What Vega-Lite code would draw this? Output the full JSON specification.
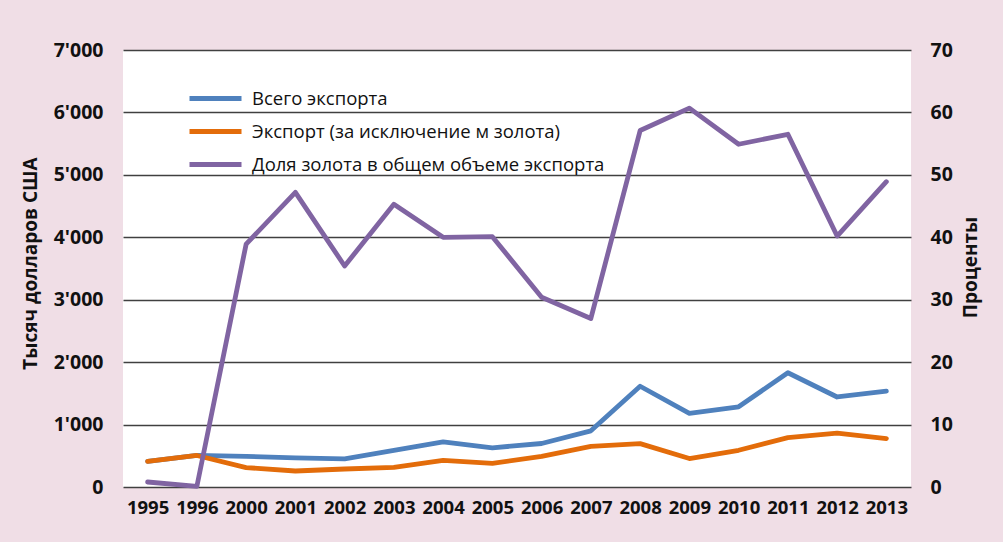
{
  "$schema": "https://vega.github.io/schema/vega-lite/v6.json",
  "width": 788,
  "height": 437,
  "autosize": {"type": "none"},
  "padding": {"left": 123, "top": 50, "right": 92, "bottom": 55},
  "background": "#F0DEE6",
  "config": {
    "view": {"fill": "white", "stroke": null},
    "font": "Open Sans"
  },
  "data": {
    "values": [
      {"year": "1995", "series": "Всего экспорта", "value": 412},
      {"year": "1996", "series": "Всего экспорта", "value": 505},
      {"year": "2000", "series": "Всего экспорта", "value": 492},
      {"year": "2001", "series": "Всего экспорта", "value": 465},
      {"year": "2002", "series": "Всего экспорта", "value": 449},
      {"year": "2003", "series": "Всего экспорта", "value": 585},
      {"year": "2004", "series": "Всего экспорта", "value": 721},
      {"year": "2005", "series": "Всего экспорта", "value": 628},
      {"year": "2006", "series": "Всего экспорта", "value": 697},
      {"year": "2007", "series": "Всего экспорта", "value": 900},
      {"year": "2008", "series": "Всего экспорта", "value": 1614},
      {"year": "2009", "series": "Всего экспорта", "value": 1178},
      {"year": "2010", "series": "Всего экспорта", "value": 1285},
      {"year": "2011", "series": "Всего экспорта", "value": 1830},
      {"year": "2012", "series": "Всего экспорта", "value": 1442},
      {"year": "2013", "series": "Всего экспорта", "value": 1535},
      {"year": "1995", "series": "Экспорт (за исключение м золота)", "value": 410},
      {"year": "1996", "series": "Экспорт (за исключение м золота)", "value": 505},
      {"year": "2000", "series": "Экспорт (за исключение м золота)", "value": 311},
      {"year": "2001", "series": "Экспорт (за исключение м золота)", "value": 256},
      {"year": "2002", "series": "Экспорт (за исключение м золота)", "value": 288},
      {"year": "2003", "series": "Экспорт (за исключение м золота)", "value": 313},
      {"year": "2004", "series": "Экспорт (за исключение м золота)", "value": 428},
      {"year": "2005", "series": "Экспорт (за исключение м золота)", "value": 377},
      {"year": "2006", "series": "Экспорт (за исключение м золота)", "value": 492},
      {"year": "2007", "series": "Экспорт (за исключение м золота)", "value": 652},
      {"year": "2008", "series": "Экспорт (за исключение м золота)", "value": 695},
      {"year": "2009", "series": "Экспорт (за исключение м золота)", "value": 456},
      {"year": "2010", "series": "Экспорт (за исключение м золота)", "value": 588},
      {"year": "2011", "series": "Экспорт (за исключение м золота)", "value": 792},
      {"year": "2012", "series": "Экспорт (за исключение м золота)", "value": 862},
      {"year": "2013", "series": "Экспорт (за исключение м золота)", "value": 776},
      {"year": "1995", "series": "Доля золота в общем объеме экспорта", "value": 0.8},
      {"year": "1996", "series": "Доля золота в общем объеме экспорта", "value": 0.1},
      {"year": "2000", "series": "Доля золота в общем объеме экспорта", "value": 38.9},
      {"year": "2001", "series": "Доля золота в общем объеме экспорта", "value": 47.2},
      {"year": "2002", "series": "Доля золота в общем объеме экспорта", "value": 35.4},
      {"year": "2003", "series": "Доля золота в общем объеме экспорта", "value": 45.3},
      {"year": "2004", "series": "Доля золота в общем объеме экспорта", "value": 40.0},
      {"year": "2005", "series": "Доля золота в общем объеме экспорта", "value": 40.1},
      {"year": "2006", "series": "Доля золота в общем объеме экспорта", "value": 30.4},
      {"year": "2007", "series": "Доля золота в общем объеме экспорта", "value": 27.0},
      {"year": "2008", "series": "Доля золота в общем объеме экспорта", "value": 57.1},
      {"year": "2009", "series": "Доля золота в общем объеме экспорта", "value": 60.7},
      {"year": "2010", "series": "Доля золота в общем объеме экспорта", "value": 54.9},
      {"year": "2011", "series": "Доля золота в общем объеме экспорта", "value": 56.5},
      {"year": "2012", "series": "Доля золота в общем объеме экспорта", "value": 40.2},
      {"year": "2013", "series": "Доля золота в общем объеме экспорта", "value": 48.9}
    ]
  },
  "encoding": {
    "x": {
      "field": "year",
      "type": "nominal",
      "scale": {"type": "point", "padding": 0.5},
      "axis": {
        "title": null,
        "labelAngle": 0,
        "labelFontSize": 18.5,
        "labelFontWeight": "bold",
        "labelColor": "#111",
        "labelPadding": 11,
        "ticks": false,
        "domain": false,
        "grid": false
      }
    },
    "color": {
      "field": "series",
      "type": "nominal",
      "scale": {
        "domain": ["Всего экспорта", "Экспорт (за исключение м золота)", "Доля золота в общем объеме экспорта"],
        "range": ["#4F81BD", "#E36C0A", "#8064A2"]
      },
      "legend": {
        "title": null,
        "orient": "none",
        "legendX": 70,
        "legendY": 26,
        "symbolType": "M-1.3,0L1.3,0",
        "symbolSize": 1600,
        "symbolStrokeWidth": 5,
        "labelFontSize": 18.5,
        "labelColor": "#111",
        "labelOffset": 14,
        "rowPadding": 0,
        "labelLimit": 500
      }
    }
  },
  "layer": [
    {
      "transform": [{"filter": "datum.series !== 'Доля золота в общем объеме экспорта'"}],
      "mark": {"type": "line", "strokeWidth": 4.8, "strokeCap": "round", "strokeJoin": "round"},
      "encoding": {
        "y": {
          "field": "value",
          "type": "quantitative",
          "scale": {"domain": [0, 7000]},
          "axis": {
            "title": "Тысяч долларов США",
            "values": [0, 1000, 2000, 3000, 4000, 5000, 6000, 7000],
            "labelExpr": "replace(format(datum.value, ','), ',', \"'\")",
            "labelFontSize": 19.5,
            "labelFontWeight": "bold",
            "labelColor": "#111",
            "labelPadding": 20,
            "ticks": false,
            "domain": false,
            "grid": true,
            "gridColor": "#404040",
            "gridWidth": 1.3,
            "titleFontSize": 19,
            "titleFontWeight": "bold",
            "titleColor": "#111",
            "titleAngle": -90,
            "titleX": -93,
            "titleY": 213,
            "titleAlign": "center",
            "titleBaseline": "middle"
          }
        }
      }
    },
    {
      "transform": [{"filter": "datum.series === 'Доля золота в общем объеме экспорта'"}],
      "mark": {"type": "line", "strokeWidth": 4.8, "strokeCap": "round", "strokeJoin": "round"},
      "encoding": {
        "y": {
          "field": "value",
          "type": "quantitative",
          "scale": {"domain": [0, 70]},
          "axis": {
            "orient": "right",
            "title": "Проценты",
            "values": [0, 10, 20, 30, 40, 50, 60, 70],
            "labelFontSize": 19.5,
            "labelFontWeight": "bold",
            "labelColor": "#111",
            "labelPadding": 19,
            "ticks": false,
            "domain": false,
            "grid": false,
            "titleFontSize": 19,
            "titleFontWeight": "bold",
            "titleColor": "#111",
            "titleAngle": -90,
            "titleX": 59,
            "titleY": 217,
            "titleAlign": "center",
            "titleBaseline": "middle"
          }
        }
      }
    }
  ],
  "resolve": {"scale": {"y": "independent"}}
}
